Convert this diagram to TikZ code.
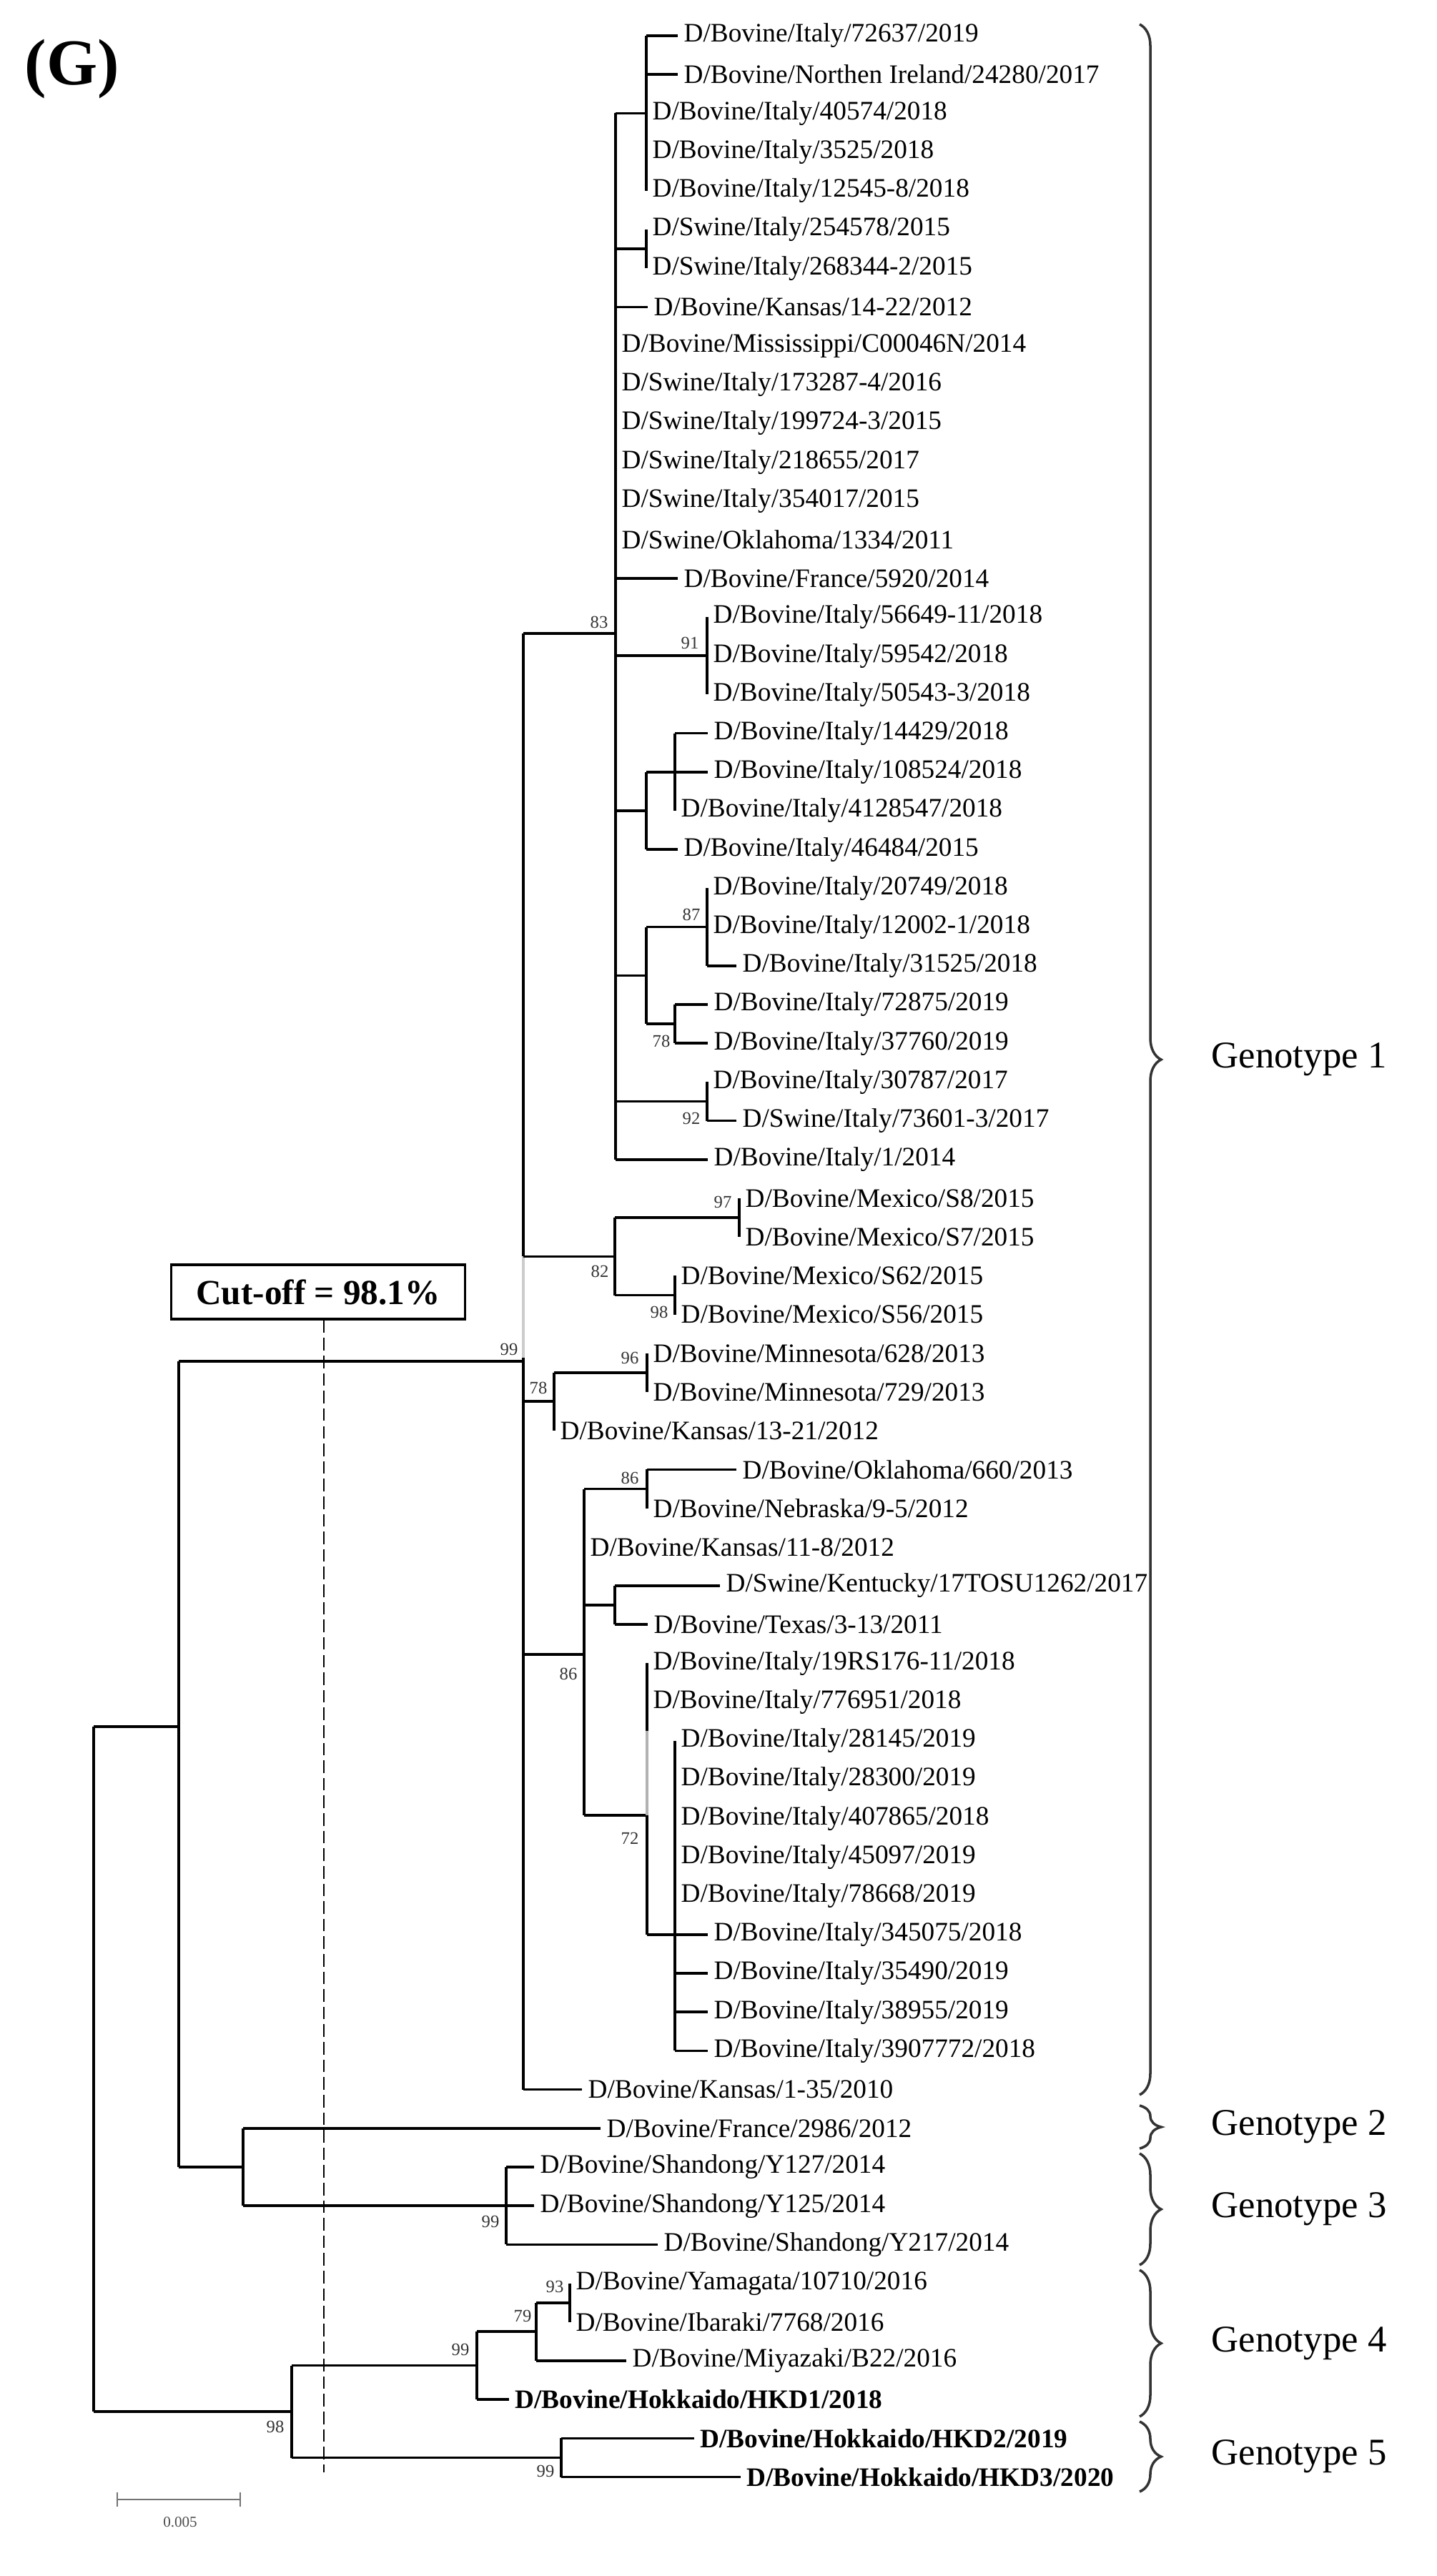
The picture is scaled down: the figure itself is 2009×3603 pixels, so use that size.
\documentclass[tikz,border=0pt]{standalone}
\usepackage{fontspec}
\setmainfont{Liberation Serif}
\usetikzlibrary{decorations.pathreplacing}
\newcommand\Y[1]{{50+(#1-1)*54.2}}
\begin{document}
\begin{tikzpicture}[x=0.01cm,y=-0.01cm,
  br/.style={line width=1pt},
  leaf/.style={anchor=west,inner xsep=0.08cm,inner ysep=0pt,font=\fontsize{10.6}{11}\selectfont},
  bleaf/.style={leaf,font=\fontsize{10.6}{11}\selectfont\bfseries},
  bs/.style={inner sep=0pt,text=black!80,font=\fontsize{7}{7}\selectfont},
  gt/.style={anchor=west,inner sep=0pt,font=\fontsize{15}{15}\selectfont},
  brc/.style={decorate,decoration={brace,amplitude=0.3cm},line width=1pt,black!80}]
\useasboundingbox (0,0) rectangle (2009,3603);
\node[anchor=west,inner sep=0pt,font=\fontsize{26}{26}\selectfont\bfseries] (title) at (34,97) {(G)};
% leaves
\node[leaf] (l1) at (948,\Y{1}) {D/Bovine/Italy/72637/2019};
\node[leaf] (l2) at (948,\Y{2}) {D/Bovine/Northen Ireland/24280/2017};
\node[leaf] (l3) at (904,\Y{3}) {D/Bovine/Italy/40574/2018};
\node[leaf] (l4) at (904,\Y{4}) {D/Bovine/Italy/3525/2018};
\node[leaf] (l5) at (904,\Y{5}) {D/Bovine/Italy/12545-8/2018};
\node[leaf] (l6) at (904,\Y{6}) {D/Swine/Italy/254578/2015};
\node[leaf] (l7) at (904,\Y{7}) {D/Swine/Italy/268344-2/2015};
\node[leaf] (l8) at (906,\Y{8}) {D/Bovine/Kansas/14-22/2012};
\node[leaf] (l9) at (861,\Y{9}) {D/Bovine/Mississippi/C00046N/2014};
\node[leaf] (l10) at (861,\Y{10}) {D/Swine/Italy/173287-4/2016};
\node[leaf] (l11) at (861,\Y{11}) {D/Swine/Italy/199724-3/2015};
\node[leaf] (l12) at (861,\Y{12}) {D/Swine/Italy/218655/2017};
\node[leaf] (l13) at (861,\Y{13}) {D/Swine/Italy/354017/2015};
\node[leaf] (l14) at (861,\Y{14}) {D/Swine/Oklahoma/1334/2011};
\node[leaf] (l15) at (948,\Y{15}) {D/Bovine/France/5920/2014};
\node[leaf] (l16) at (989,\Y{16}) {D/Bovine/Italy/56649-11/2018};
\node[leaf] (l17) at (989,\Y{17}) {D/Bovine/Italy/59542/2018};
\node[leaf] (l18) at (989,\Y{18}) {D/Bovine/Italy/50543-3/2018};
\node[leaf] (l19) at (990,\Y{19}) {D/Bovine/Italy/14429/2018};
\node[leaf] (l20) at (990,\Y{20}) {D/Bovine/Italy/108524/2018};
\node[leaf] (l21) at (944,\Y{21}) {D/Bovine/Italy/4128547/2018};
\node[leaf] (l22) at (948,\Y{22}) {D/Bovine/Italy/46484/2015};
\node[leaf] (l23) at (989,\Y{23}) {D/Bovine/Italy/20749/2018};
\node[leaf] (l24) at (989,\Y{24}) {D/Bovine/Italy/12002-1/2018};
\node[leaf] (l25) at (1030,\Y{25}) {D/Bovine/Italy/31525/2018};
\node[leaf] (l26) at (990,\Y{26}) {D/Bovine/Italy/72875/2019};
\node[leaf] (l27) at (990,\Y{27}) {D/Bovine/Italy/37760/2019};
\node[leaf] (l28) at (989,\Y{28}) {D/Bovine/Italy/30787/2017};
\node[leaf] (l29) at (1030,\Y{29}) {D/Swine/Italy/73601-3/2017};
\node[leaf] (l30) at (990,\Y{30}) {D/Bovine/Italy/1/2014};
\node[leaf] (l31) at (1034,\Y{31}) {D/Bovine/Mexico/S8/2015};
\node[leaf] (l32) at (1034,\Y{32}) {D/Bovine/Mexico/S7/2015};
\node[leaf] (l33) at (944,\Y{33}) {D/Bovine/Mexico/S62/2015};
\node[leaf] (l34) at (944,\Y{34}) {D/Bovine/Mexico/S56/2015};
\node[leaf] (l35) at (905,\Y{35}) {D/Bovine/Minnesota/628/2013};
\node[leaf] (l36) at (905,\Y{36}) {D/Bovine/Minnesota/729/2013};
\node[leaf] (l37) at (775,\Y{37}) {D/Bovine/Kansas/13-21/2012};
\node[leaf] (l38) at (1030,\Y{38}) {D/Bovine/Oklahoma/660/2013};
\node[leaf] (l39) at (905,\Y{39}) {D/Bovine/Nebraska/9-5/2012};
\node[leaf] (l40) at (817,\Y{40}) {D/Bovine/Kansas/11-8/2012};
\node[leaf] (l41) at (1007,\Y{41}) {D/Swine/Kentucky/17TOSU1262/2017};
\node[leaf] (l42) at (906,\Y{42}) {D/Bovine/Texas/3-13/2011};
\node[leaf] (l43) at (905,\Y{43}) {D/Bovine/Italy/19RS176-11/2018};
\node[leaf] (l44) at (905,\Y{44}) {D/Bovine/Italy/776951/2018};
\node[leaf] (l45) at (944,\Y{45}) {D/Bovine/Italy/28145/2019};
\node[leaf] (l46) at (944,\Y{46}) {D/Bovine/Italy/28300/2019};
\node[leaf] (l47) at (944,\Y{47}) {D/Bovine/Italy/407865/2018};
\node[leaf] (l48) at (944,\Y{48}) {D/Bovine/Italy/45097/2019};
\node[leaf] (l49) at (944,\Y{49}) {D/Bovine/Italy/78668/2019};
\node[leaf] (l50) at (990,\Y{50}) {D/Bovine/Italy/345075/2018};
\node[leaf] (l51) at (990,\Y{51}) {D/Bovine/Italy/35490/2019};
\node[leaf] (l52) at (990,\Y{52}) {D/Bovine/Italy/38955/2019};
\node[leaf] (l53) at (990,\Y{53}) {D/Bovine/Italy/3907772/2018};
\node[leaf] (l54) at (814,\Y{54}) {D/Bovine/Kansas/1-35/2010};
\node[leaf] (l55) at (840,\Y{55}) {D/Bovine/France/2986/2012};
\node[leaf] (l56) at (747,\Y{56}) {D/Bovine/Shandong/Y127/2014};
\node[leaf] (l57) at (747,\Y{57}) {D/Bovine/Shandong/Y125/2014};
\node[leaf] (l58) at (920,\Y{58}) {D/Bovine/Shandong/Y217/2014};
\node[leaf] (l59) at (797,\Y{59}) {D/Bovine/Yamagata/10710/2016};
\node[leaf] (l60) at (797,\Y{60}) {D/Bovine/Ibaraki/7768/2016};
\node[leaf] (l61) at (876,\Y{61}) {D/Bovine/Miyazaki/B22/2016};
\node[bleaf] (l62) at (712,\Y{62}) {D/Bovine/Hokkaido/HKD1/2018};
\node[bleaf] (l63) at (971,\Y{63}) {D/Bovine/Hokkaido/HKD2/2019};
\node[bleaf] (l64) at (1036,\Y{64}) {D/Bovine/Hokkaido/HKD3/2020};
% internal nodes
\coordinate (E) at (732,1904);
\coordinate (B) at (861,886);
\coordinate (A) at (904,\Y{3});
\coordinate (P) at (904,348);
\coordinate (C91) at (989,\Y{17});
\coordinate (S) at (944,\Y{20});
\coordinate (Q) at (904,\Y{21});
\coordinate (N87) at (989,\Y{24});
\coordinate (N78) at (944,1432.1);
\coordinate (C2) at (904,1364.35);
\coordinate (N92) at (989,1540.5);
\coordinate (D) at (860,1757.3);
\coordinate (N97) at (1034,1703.1);
\coordinate (N98) at (944,1811.5);
\coordinate (F) at (775,1960);
\coordinate (N96) at (905,1919.9);
\coordinate (G) at (817,2314);
\coordinate (N86) at (905,2082.5);
\coordinate (KT) at (860,2245.1);
\coordinate (N72) at (905,2539);
\coordinate (H) at (944,2706);
\coordinate (R2) at (250,2415);
\coordinate (I) at (340,3031);
\coordinate (G3) at (708,\Y{57});
\coordinate (Root) at (131,2890);
\coordinate (J) at (408,3373);
\coordinate (K) at (667,3308.6);
\coordinate (L) at (750,3261);
\coordinate (M) at (797,3220.7);
\coordinate (N5) at (785,3437.5);
\coordinate (g1) at (905,2421);
\coordinate (e1) at (732,1899);
% branches
\begin{scope}[br]
\draw (A|-l1)--(A|-l5); \draw (A|-l1)--(l1.west); \draw (A|-l2)--(l2.west);
\draw (P|-l6)--(P|-l7);
\draw (B|-A)--(B|-l30);
\draw (B|-A)--(A); \draw (B|-P)--(P); \draw (B|-l8)--(l8.west); \draw (B|-l15)--(l15.west);
\draw (B|-C91)--(C91); \draw (B|-Q)--(Q); \draw (B|-C2)--(C2); \draw (B|-N92)--(N92); \draw (B|-l30)--(l30.west);
\draw (C91|-l16)--(C91|-l18);
\draw (S|-l19)--(S|-l21); \draw (S|-l19)--(l19.west); \draw (S|-l20)--(l20.west);
\draw (Q|-S)--(Q|-l22); \draw (Q|-S)--(S); \draw (Q|-l22)--(l22.west);
\draw (N87|-l23)--(N87|-l25); \draw (N87|-l25)--(l25.west);
\draw (N78|-l26)--(N78|-l27); \draw (N78|-l26)--(l26.west); \draw (N78|-l27)--(l27.west);
\draw (C2|-N87)--(C2|-N78); \draw (C2|-N87)--(N87); \draw (C2|-N78)--(N78);
\draw (N92|-l28)--(N92|-l29); \draw (N92|-l29)--(l29.west);
\draw (D|-N97)--(D|-N98); \draw (D|-N97)--(N97); \draw (D|-N98)--(N98);
\draw (N97|-l31)--(N97|-l32); \draw (N98|-l33)--(N98|-l34);
\draw (F|-N96)--(F|-l37); \draw (F|-N96)--(N96); \draw (N96|-l35)--(N96|-l36);
\draw (G|-N86)--(G|-N72); \draw (G|-N86)--(N86); \draw (G|-KT)--(KT); \draw (G|-N72)--(N72);
\draw (N86|-l38)--(N86|-l39); \draw (N86|-l38)--(l38.west);
\draw (KT|-l41)--(KT|-l42); \draw (KT|-l41)--(l41.west); \draw (KT|-l42)--(l42.west);
\draw (N72|-l43)--(g1); \draw[black!30] (g1)--(N72); \draw (N72)--(N72|-H); \draw (N72|-H)--(H);
\draw (H|-l45)--(H|-l53);
\draw (H|-l50)--(l50.west); \draw (H|-l51)--(l51.west); \draw (H|-l52)--(l52.west); \draw (H|-l53)--(l53.west);
\draw (E|-B)--(E|-D); \draw[black!20] (E|-D)--(e1); \draw (e1)--(E|-l54);
\draw (E|-B)--(B); \draw (E|-D)--(D); \draw (E|-F)--(F); \draw (E|-G)--(G); \draw (E|-l54)--(l54.west);
\draw (R2|-E)--(R2|-I); \draw (R2|-E)--(E); \draw (R2|-I)--(I);
\draw (I|-l55)--(I|-l57); \draw (I|-l55)--(l55.west); \draw (I|-l57)--(l57.west);
\draw (G3|-l56)--(G3|-l58); \draw (G3|-l56)--(l56.west); \draw (G3|-l58)--(l58.west);
\draw (Root|-R2)--(Root|-J); \draw (Root|-R2)--(R2); \draw (Root|-J)--(J);
\draw (J|-K)--(J|-N5); \draw (J|-K)--(K); \draw (J|-N5)--(N5);
\draw (K|-L)--(K|-l62); \draw (K|-L)--(L); \draw (K|-l62)--(l62.west);
\draw (L|-M)--(L|-l61); \draw (L|-M)--(M); \draw (L|-l61)--(l61.west);
\draw (M|-l59)--(M|-l60);
\draw (N5|-l63)--(N5|-l64); \draw (N5|-l63)--(l63.west); \draw (N5|-l64)--(l64.west);
\end{scope}
% bootstrap values
\node[bs] (b1) at (838,870) {83};
\node[bs] (b2) at (965,899) {91};
\node[bs] (b3) at (967,1279) {87};
\node[bs] (b4) at (925,1456) {78};
\node[bs] (b5) at (967,1564) {92};
\node[bs] (b6) at (1011,1681) {97};
\node[bs] (b7) at (839,1778) {82};
\node[bs] (b8) at (922,1835) {98};
\node[bs] (b9) at (712,1887) {99};
\node[bs] (b10) at (881,1899) {96};
\node[bs] (b11) at (753,1941) {78};
\node[bs] (b12) at (881,2067) {86};
\node[bs] (b13) at (795,2341) {86};
\node[bs] (b14) at (881,2571) {72};
\node[bs] (b15) at (686,3107) {99};
\node[bs] (b16) at (776,3198) {93};
\node[bs] (b17) at (731,3239) {79};
\node[bs] (b18) at (644,3286) {99};
\node[bs] (b19) at (385,3394) {98};
\node[bs] (b20) at (763,3456) {99};
% cut-off
\node[draw,line width=1pt,minimum width=4.11cm,minimum height=0.76cm,inner sep=0pt,font=\fontsize{14}{14}\selectfont\bfseries] (cut) at (445,1807) {Cut-off = 98.1\%};
\coordinate (cutbot) at (453,3458);
\draw[line width=0.7pt,dash pattern=on 5pt off 2pt] (cut.south -| cutbot) -- (cutbot);
% braces and genotype labels
\draw[brc] (1594,34) -- (1594,2930);
\draw[brc] (1594,2945) -- (1594,3005);
\draw[brc] (1594,3012) -- (1594,3168);
\draw[brc] (1594,3175) -- (1594,3380);
\draw[brc] (1594,3387) -- (1594,3485);
\node[gt] (gt1) at (1694,1482) {Genotype 1};
\node[gt] (gt2) at (1694,2975) {Genotype 2};
\node[gt] (gt3) at (1694,3090) {Genotype 3};
\node[gt] (gt4) at (1694,3278) {Genotype 4};
\node[gt] (gt5) at (1694,3436) {Genotype 5};
% scale bar
\coordinate (s1) at (164,3496); \coordinate (s2) at (336,3496);
\draw[black!55,line width=0.8pt] (s1) -- (s2);
\draw[black!55,line width=0.8pt] ([yshift=0.1cm]s1) -- ([yshift=-0.1cm]s1);
\draw[black!55,line width=0.8pt] ([yshift=0.1cm]s2) -- ([yshift=-0.1cm]s2);
\node[inner sep=0pt,font=\fontsize{6}{6}\selectfont,text=black!70] (sl) at (252,3528) {0.005};
\end{tikzpicture}
\end{document}
